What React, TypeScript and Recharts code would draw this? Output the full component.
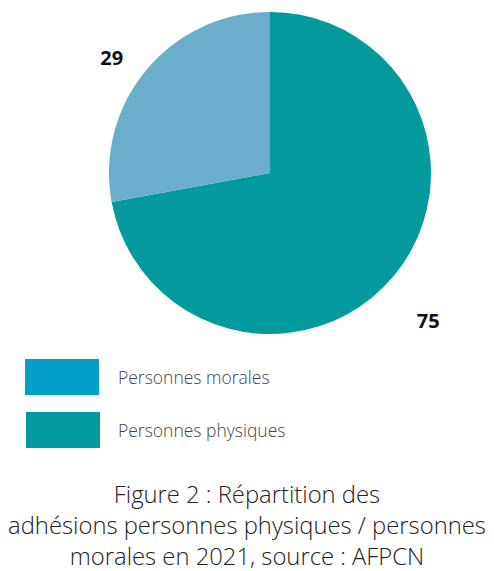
import { PieChart, Pie, Cell } from 'recharts';

const categories = ['Personnes physiques', 'Personnes morales'];
const values = [75, 29];
const sliceColors = ['#029a9c', '#6aaecb'];
const legendColors = ['#029a9c', '#02a0c6'];
const captionLines = [
  'Figure 2 : Répartition des',
  'adhésions personnes physiques / personnes',
  'morales en 2021, source : AFPCN',
];

const data = categories.map((name, i) => ({ name, value: values[i] }));

const RADIAN = Math.PI / 180;

function renderLabel(props: any) {
  const { cx, cy, midAngle, outerRadius, value } = props;
  const r = outerRadius + 45;
  const x = cx + r * Math.cos(-midAngle * RADIAN);
  // labels sit a little lower than the mid angle in the original
  const y = cy + r * Math.sin(-midAngle * RADIAN) + 16;
  return (
    <text
      x={x}
      y={y}
      textAnchor="middle"
      dominantBaseline="central"
      fill="#111"
      fontSize={20}
      fontWeight={700}
      fontFamily="'Open Sans', sans-serif"
    >
      {value}
    </text>
  );
}

function ChartLegend() {
  // legend lists the smaller group first
  const order = [1, 0];
  return (
    <div style={{ position: 'absolute', left: 25, top: 359 }}>
      {order.map((i) => (
        <div key={categories[i]} style={{ display: 'flex', alignItems: 'center', height: 36, marginBottom: 17 }}>
          <div style={{ width: 74, height: 36, background: legendColors[i], marginLeft: i === 0 ? 1 : 0 }} />
          <span
            style={{
              marginLeft: i === 0 ? 18 : 19,
              fontFamily: "'Open Sans', sans-serif",
              fontWeight: 300,
              fontSize: 17.5,
              color: '#444',
            }}
          >
            {categories[i]}
          </span>
        </div>
      ))}
    </div>
  );
}

export default function App() {
  return (
    <div style={{ position: 'absolute', left: 0, top: 0, width: 494, height: 571, background: '#fff' }}>
      <PieChart width={494} height={350} margin={{ top: 0, right: 0, bottom: 0, left: 0 }}>
        <Pie
          data={data}
          dataKey="value"
          nameKey="name"
          cx={270}
          cy={173}
          outerRadius={161}
          startAngle={90}
          endAngle={-270}
          stroke="none"
          label={renderLabel}
          labelLine={false}
          isAnimationActive={false}
        >
          {data.map((d, i) => (
            <Cell key={d.name} fill={sliceColors[i]} />
          ))}
        </Pie>
      </PieChart>
      <ChartLegend />
      <div
        style={{
          position: 'absolute',
          left: 0,
          top: 479,
          width: 494,
          textAlign: 'center',
          fontFamily: "'Open Sans', sans-serif",
          fontWeight: 300,
          fontSize: 23.8,
          lineHeight: '31px',
          color: '#222',
          whiteSpace: 'nowrap',
        }}
      >
        {captionLines.map((l) => (
          <div key={l}>{l}</div>
        ))}
      </div>
    </div>
  );
}
